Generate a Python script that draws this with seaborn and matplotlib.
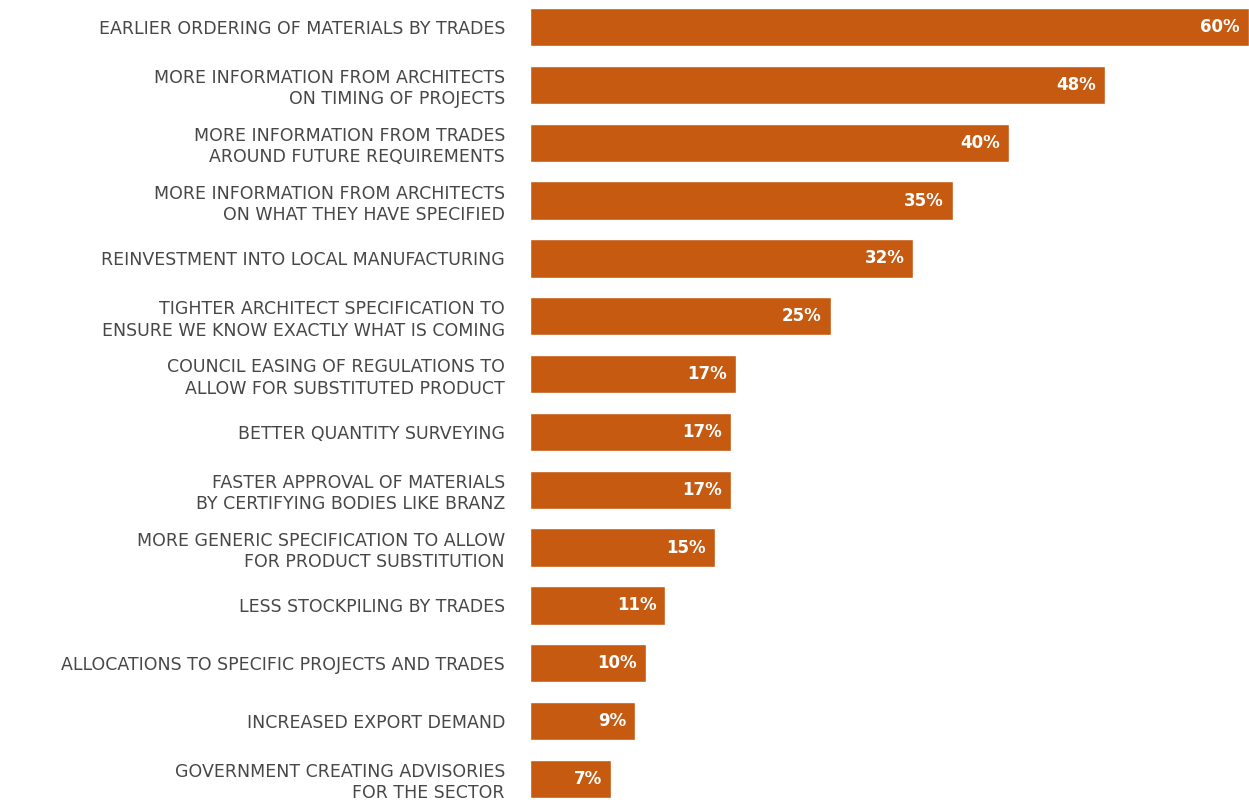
import matplotlib
matplotlib.use("Agg")
import matplotlib.pyplot as plt
import pandas as pd
import seaborn as sns

# Survey responses (share of respondents), top to bottom
categories = [
    "EARLIER ORDERING OF MATERIALS BY TRADES",
    "MORE INFORMATION FROM ARCHITECTS\nON TIMING OF PROJECTS",
    "MORE INFORMATION FROM TRADES\nAROUND FUTURE REQUIREMENTS",
    "MORE INFORMATION FROM ARCHITECTS\nON WHAT THEY HAVE SPECIFIED",
    "REINVESTMENT INTO LOCAL MANUFACTURING",
    "TIGHTER ARCHITECT SPECIFICATION TO\nENSURE WE KNOW EXACTLY WHAT IS COMING",
    "COUNCIL EASING OF REGULATIONS TO\nALLOW FOR SUBSTITUTED PRODUCT",
    "BETTER QUANTITY SURVEYING",
    "FASTER APPROVAL OF MATERIALS\nBY CERTIFYING BODIES LIKE BRANZ",
    "MORE GENERIC SPECIFICATION TO ALLOW\nFOR PRODUCT SUBSTITUTION",
    "LESS STOCKPILING BY TRADES",
    "ALLOCATIONS TO SPECIFIC PROJECTS AND TRADES",
    "INCREASED EXPORT DEMAND",
    "GOVERNMENT CREATING ADVISORIES\nFOR THE SECTOR",
]
values = [60, 48, 40, 35.3, 32, 25.1, 17.2, 16.8, 16.8, 15.4, 11.3, 9.7, 8.8, 6.8]
value_labels = ["60%", "48%", "40%", "35%", "32%", "25%", "17%", "17%", "17%",
                "15%", "11%", "10%", "9%", "7%"]

BAR_COLOR = "#C65A11"
TEXT_COLOR = "#474747"

sns.set_style("white")
plt.rcParams["font.family"] = ["DejaVu Sans"]

df = pd.DataFrame({"category": categories, "value": values})

fig = plt.figure(figsize=(12.49, 8), dpi=100)
ax = fig.add_axes([530 / 1249, 2 / 800, 719 / 1249, 790 / 800])

bar_w = 0.66
sns.barplot(data=df, x="value", y="category", orient="h", color=BAR_COLOR,
            width=bar_w, saturation=1, ax=ax)

ax.set_xlim(0, 60)
ax.set_ylim(len(categories) - 1 + bar_w / 2, -bar_w / 2)
ax.set_xlabel("")
ax.set_ylabel("")
ax.set_xticks([])
ax.tick_params(axis="y", length=0, pad=18)
for lbl in ax.get_yticklabels():
    lbl.set_fontsize(12.5)
    lbl.set_color(TEXT_COLOR)
    lbl.set_linespacing(1.25)
    lbl.set_horizontalalignment("right")
    lbl.set_multialignment("right")
sns.despine(ax=ax, left=True, bottom=True)

for i, (v, txt) in enumerate(zip(values, value_labels)):
    ax.annotate(txt, xy=(v, i), xytext=(-6.5, 0), textcoords="offset points",
                ha="right", va="center", color="white", fontsize=12,
                fontweight="bold")

fig.savefig("out.png", dpi=100)
